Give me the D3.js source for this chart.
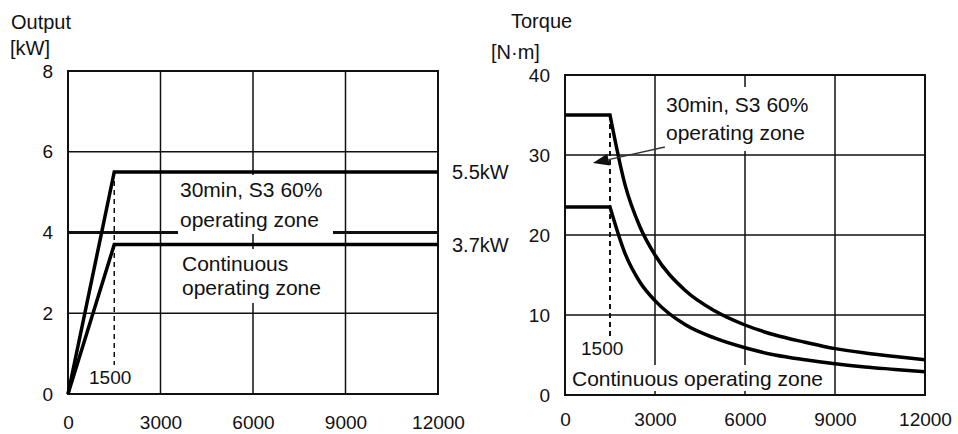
<!DOCTYPE html>
<html>
<head>
<meta charset="utf-8">
<script src="https://cdn.jsdelivr.net/npm/d3@7"></script>
<style>
  body { margin: 0; background: #fff; }
  svg { display: block; font-family: "Liberation Sans", Arial, sans-serif; }
</style>
</head>
<body>
<svg id="chart" width="958" height="434"></svg>
<script>
// speed axis, shared by both panels [r/min]
var speedTicks = [0, 3000, 6000, 9000, 12000];
var outputTicks = [0, 2, 4, 6, 8];
var torqueTicks = [0, 10, 20, 30, 40];
var baseSpeed = 1500;

// output [kW] vs speed
var outputS3 = [[0, 0], [1500, 5.5], [12000, 5.5]];
var outputCont = [[0, 0], [1500, 3.7], [12000, 3.7]];
var outputLabels = ['5.5kW', '3.7kW'];

// torque [N·m] vs speed
var torqueS3 = [[0, 35], [1500, 35], [2000, 26.3], [2500, 21], [3000, 17.5], [4000, 13.1],
    [5000, 10.5], [6000, 8.75], [7000, 7.5], [8000, 6.6], [9000, 5.8], [10000, 5.25],
    [11000, 4.8], [12000, 4.4]];
var torqueCont = [[0, 23.5], [1500, 23.5], [2000, 17.7], [2500, 14.1], [3000, 11.8], [4000, 8.8],
    [5000, 7.1], [6000, 5.9], [7000, 5.0], [8000, 4.4], [9000, 3.9], [10000, 3.5],
    [11000, 3.2], [12000, 2.9]];

var svg = d3.select('#chart');

var xL = d3.scaleLinear().domain([0, 12000]).range([68, 438]);
var yL = d3.scaleLinear().domain([0, 8]).range([394, 71]);
var xR = d3.scaleLinear().domain([0, 12000]).range([565, 925]);
var yR = d3.scaleLinear().domain([0, 40]).range([395, 75]);

function drawGrid(g, x, y, yTicks) {
    g.append('g').selectAll('line.v').data(speedTicks.slice(1, -1)).enter().append('line')
        .attr('x1', function(d) { return x(d); }).attr('x2', function(d) { return x(d); })
        .attr('y1', y.range()[0]).attr('y2', y.range()[1])
        .attr('stroke', '#111').attr('stroke-width', 1.5);
    g.append('g').selectAll('line.h').data(yTicks.slice(1, -1)).enter().append('line')
        .attr('y1', function(d) { return y(d); }).attr('y2', function(d) { return y(d); })
        .attr('x1', x.range()[0]).attr('x2', x.range()[1])
        .attr('stroke', '#111').attr('stroke-width', 1.5);
}

function drawAxes(g, x, y, xTickY, yTickX) {
    var ax = g.append('g').attr('transform', 'translate(0,' + xTickY + ')')
        .call(d3.axisBottom(x).tickValues(speedTicks).tickSize(0).tickPadding(0).tickFormat(d3.format('d')));
    ax.select('.domain').remove();
    ax.selectAll('text').attr('font-size', 19).attr('font-family', 'Liberation Sans, Arial, sans-serif')
        .attr('fill', '#111').attr('dy', '0.35em');
    var ay = g.append('g').attr('transform', 'translate(' + yTickX + ',0)')
        .call(d3.axisLeft(y).ticks(4).tickSize(0).tickPadding(0));
    ay.select('.domain').remove();
    ay.selectAll('text').attr('font-size', 19).attr('font-family', 'Liberation Sans, Arial, sans-serif')
        .attr('fill', '#111');
}

function frame(g, x, y) {
    g.append('rect')
        .attr('x', x.range()[0]).attr('y', y.range()[1])
        .attr('width', x.range()[1] - x.range()[0]).attr('height', y.range()[0] - y.range()[1])
        .attr('fill', 'none').attr('stroke', '#111').attr('stroke-width', 2);
}

function whiteBox(g, x0, y0, x1, y1) {
    g.append('rect').attr('x', x0).attr('y', y0).attr('width', x1 - x0).attr('height', y1 - y0)
        .attr('fill', '#fff');
}

function label(g, txt, x, y, size, anchor) {
    return g.append('text').attr('x', x).attr('y', y).attr('font-size', size || 20)
        .attr('text-anchor', anchor || 'start').attr('fill', '#111').text(txt);
}

// ---------- left: output ----------
var left = svg.append('g');
drawGrid(left, xL, yL, outputTicks);
// the 4 kW line is drawn heavy in the original
left.append('line').attr('x1', xL(0)).attr('x2', xL(12000)).attr('y1', yL(4)).attr('y2', yL(4))
    .attr('stroke', '#111').attr('stroke-width', 3);
whiteBox(left, 178, 175, 333, 234);
whiteBox(left, 178, 249, 333, 303);
frame(left, xL, yL);

left.append('line')
    .attr('x1', xL(baseSpeed)).attr('x2', xL(baseSpeed))
    .attr('y1', yL(5.5)).attr('y2', 365)
    .attr('stroke', '#111').attr('stroke-width', 1.5).attr('stroke-dasharray', '5,4');

var lineL = d3.line().x(function(d) { return xL(d[0]); }).y(function(d) { return yL(d[1]); });
left.selectAll('path.curve').data([outputS3, outputCont]).enter().append('path')
    .attr('d', lineL).attr('fill', 'none').attr('stroke', '#000').attr('stroke-width', 3.5)
    .attr('stroke-linejoin', 'miter');

drawAxes(left, xL, yL, 422, 53);
label(left, 'Output', 11, 29, 20);
label(left, '[kW]', 10, 55, 20);
label(left, outputLabels[0], 452, yL(5.5) + 7, 20);
label(left, outputLabels[1], 452, yL(3.7) + 7, 20);
label(left, '30min, S3 60%', 180, 197, 21);
label(left, 'operating zone', 180, 227, 21);
label(left, 'Continuous', 182, 271, 21);
label(left, 'operating zone', 182, 295, 21);
label(left, String(baseSpeed), 89, 384, 19);

// ---------- right: torque ----------
var right = svg.append('g');
drawGrid(right, xR, yR, torqueTicks);
whiteBox(right, 664, 87, 812, 151);
whiteBox(right, 569, 365, 829, 391);
frame(right, xR, yR);

right.append('line')
    .attr('x1', xR(baseSpeed)).attr('x2', xR(baseSpeed))
    .attr('y1', yR(35)).attr('y2', 340)
    .attr('stroke', '#111').attr('stroke-width', 2).attr('stroke-dasharray', '5,4');

// flat part straight, the falling part smoothed from the corner at base speed on
var flatR = d3.line().x(function(d) { return xR(d[0]); }).y(function(d) { return yR(d[1]); });
var fallR = d3.line().curve(d3.curveMonotoneX)
    .x(function(d) { return xR(d[0]); }).y(function(d) { return yR(d[1]); });
[torqueS3, torqueCont].forEach(function(series) {
    var k = series.findIndex(function(d) { return d[0] === baseSpeed; });
    var d = flatR(series.slice(0, k + 1)) + fallR(series.slice(k)).replace(/^M[^LC]*/, '');
    right.append('path').attr('d', d).attr('fill', 'none').attr('stroke', '#000')
        .attr('stroke-width', 3.5).attr('stroke-linejoin', 'miter');
});

// leader arrow from the S3 label to the S3 curve
var tail = [xR(3330), yR(31)], tip = [xR(930), yR(29)];
var ang = Math.atan2(tip[1] - tail[1], tip[0] - tail[0]);
var headLen = 16, headW = 6;
var base = [tip[0] - headLen * Math.cos(ang), tip[1] - headLen * Math.sin(ang)];
right.append('line').attr('x1', tail[0]).attr('y1', tail[1]).attr('x2', base[0]).attr('y2', base[1])
    .attr('stroke', '#333').attr('stroke-width', 1.3);
right.append('path')
    .attr('d', 'M' + tip[0] + ',' + tip[1] +
        'L' + (base[0] + headW * Math.sin(ang)) + ',' + (base[1] - headW * Math.cos(ang)) +
        'L' + (base[0] - headW * Math.sin(ang)) + ',' + (base[1] + headW * Math.cos(ang)) + 'Z')
    .attr('fill', '#111');

drawAxes(right, xR, yR, 419, 550);
label(right, 'Torque', 511, 28, 20);
label(right, '[N·m]', 491, 59, 20);
label(right, '30min, S3 60%', 666, 112, 21);
label(right, 'operating zone', 666, 140, 21);
label(right, 'Continuous operating zone', 572, 386, 21);
label(right, String(baseSpeed), 581, 355, 19);
</script>
</body>
</html>
